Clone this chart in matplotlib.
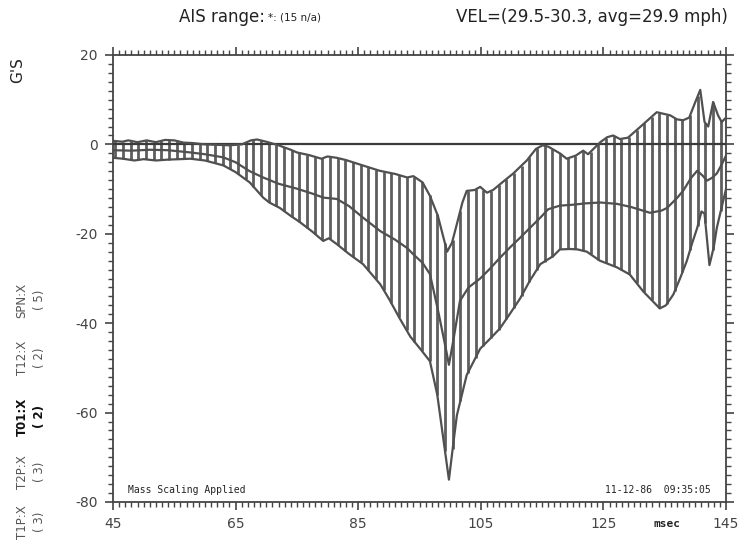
import numpy as np
import matplotlib
matplotlib.use("Agg")
import matplotlib.pyplot as plt
from matplotlib.ticker import MultipleLocator

# ---------------- data ----------------
t_upper = [45, 46.5, 47.5, 49, 50.5, 52, 53.5, 55, 56.5, 58, 60, 62, 64, 66, 67.5, 68.5,
           70, 72, 74, 75, 77, 79, 80, 81.5, 83, 85.5, 88.5, 91, 93, 94, 95.5, 96.7, 98,
           99.5, 100.3, 101.1, 102, 102.7, 104, 104.9, 106, 107, 108.5, 110.3, 112.5,
           114, 115.1, 116, 117.9, 119, 120.5, 121.7, 122.5, 124.5, 125.6, 126.6, 127.7,
           129, 131, 133.7, 135.9, 137, 138, 139, 140, 140.8, 141.5, 142.1, 142.9, 143.7,
           144.3, 145]
g_upper = [0.8, 0.6, 0.9, 0.5, 0.9, 0.5, 1.0, 0.9, 0.4, 0.3, 0.0, -0.1, -0.2, 0.0, 0.9, 1.1,
           0.6, -0.2, -1.2, -1.8, -2.4, -3.2, -2.7, -3.0, -3.5, -4.6, -5.9, -6.6, -7.4, -7.1,
           -8.5, -11.5, -16, -24, -22, -17.8, -13, -10.4, -10.2, -9.5, -10.8, -10.2, -8.5,
           -6.5, -3.6, -1.0, -0.2, -0.5, -2.0, -3.2, -2.5, -1.4, -2.2, 0.5, 1.6, 2.0, 1.2,
           1.5, 3.9, 7.2, 6.5, 5.6, 5.4, 6.0, 9.5, 12.2, 5.0, 4.0, 9.5, 6.5, 5.0, 6.0]

t_mean = [45, 48, 51, 54, 57.6, 60, 63, 65, 67.3, 69.5, 72, 75, 77.5, 79.3, 81.5, 83.5,
          85.8, 88.6, 91, 93, 94, 95.5, 96.7, 98, 99.3, 99.8, 100.5, 101.6, 103, 104.9,
          106.5, 108.1, 109.8, 111.4, 113, 114.7, 116, 117.9, 120, 122, 124.5, 127.2,
          129.5, 132.6, 134.5, 135.4, 137, 138, 139.3, 140.3, 141.2, 141.9, 142.7, 143.5,
          144.3, 145]
g_mean = [-1.3, -1.4, -1.2, -1.3, -1.8, -2.2, -2.9, -4.0, -6.0, -7.4, -8.8, -9.9, -11.0,
          -11.9, -12.2, -13.8, -16.4, -19.4, -21.3, -23.2, -24.6, -26.5, -29.0, -37, -45.7,
          -49.3, -44, -35, -32, -30, -27.8, -25.4, -23, -20.9, -18.7, -16.4, -14.5, -13.7,
          -13.5, -13.2, -13.0, -13.3, -14.0, -15.3, -14.8, -14.2, -12, -10.4, -7.5, -5.9,
          -7.0, -8.1, -7.5, -6.5, -4.5, -2.5]

t_lower = [45, 46.6, 48.5, 50, 52, 54, 56, 57.6, 60, 63, 65, 67.3, 69.5, 70.5, 72.2, 74,
           75.5, 77.5, 79.3, 80.2, 81.5, 83.5, 85.8, 88.6, 90, 91.8, 93.5, 95.1, 96.7, 97.9,
           99, 99.8, 100.6, 101.1, 102.7, 104.9, 106.5, 108.1, 109.8, 111.4, 113, 114.7,
           116.8, 117.9, 119.6, 120.8, 122.3, 124.4, 127.2, 129.3, 131.5, 134.2, 135.2,
           136.4, 137.5, 138.6, 139.5, 140.3, 141.0, 141.5, 142.3, 143.0, 143.5, 144.3, 145]
g_lower = [-3.0, -3.2, -3.6, -3.3, -3.6, -3.4, -3.3, -3.2, -3.6, -4.7, -6.2, -8.5, -11.9,
           -13.0, -14.2, -16, -17.4, -19.5, -21.6, -21.0, -22.3, -24.5, -26.8, -31.3, -34.5,
           -39.0, -43, -45.7, -48.5, -56, -67, -75, -66, -60.6, -51.6, -45.7, -43.5, -41.2,
           -37.8, -34.5, -30.5, -26.8, -25.0, -23.5, -23.4, -23.5, -24.0, -26.0, -27.5,
           -29.1, -32.9, -36.7, -36.0, -33.6, -30, -26.1, -22, -18.7, -15.0, -15.5, -27.0,
           -23, -18.7, -14, -10]

x_ticklabels = [45, 65, 85, 105, 125, 145]
y_ticklabels = [20, 0, -20, -40, -60, -80]

title_left_big = "AIS range:"
title_left_small = "*: (15 n/a)"
title_right = "VEL=(29.5-30.3, avg=29.9 mph)"
channels = ["T1P:X", "T2P:X", "T01:X", "T12:X", "SPN:X"]
channel_counts = ["( 3)", "( 3)", "( 2)", "( 2)", "( 5)"]
bold_channel = "T01:X"

# ---------------- figure ----------------
W, H = 749, 542
fig = plt.figure(figsize=(W / 100, H / 100), dpi=100)
ax = fig.add_axes([113 / W, 1 - 502 / H, (726 - 113) / W, (502 - 55) / H])

line_col = "#505050"
hatch_col = "#5e5e5e"

# vertical hatching between the envelopes
hx = np.arange(45.4, 145, 1.25)
lo = np.interp(hx, t_lower, g_lower)
up = np.interp(hx, t_upper, g_upper)
ax.vlines(hx, np.minimum(lo, up), np.maximum(lo, up), colors=hatch_col, linewidth=2.0)

ax.axhline(0, color="#3a3a3a", linewidth=1.6, zorder=3)
ax.plot(t_upper, g_upper, color=line_col, linewidth=1.6, zorder=4)
ax.plot(t_mean, g_mean, color=line_col, linewidth=1.6, zorder=4)
ax.plot(t_lower, g_lower, color=line_col, linewidth=1.6, zorder=4)

ax.set_xlim(45, 145)
ax.set_ylim(-80, 20)
ax.set_xticks(x_ticklabels)
ax.set_xticklabels([str(v) for v in x_ticklabels])
ax.set_yticks(y_ticklabels)
ax.set_yticklabels([str(v) for v in y_ticklabels])
ax.xaxis.set_minor_locator(MultipleLocator(1))
ax.yaxis.set_minor_locator(MultipleLocator(2))

for s in ax.spines.values():
    s.set_color("#444444")
    s.set_linewidth(1.3)

ax.tick_params(axis="both", which="major", direction="out", length=6, width=1.2,
               color="#444444", labelsize=10, labelcolor="#444444",
               top=True, right=True, pad=5)
ax.tick_params(axis="both", which="minor", direction="out", length=3.5, width=1.0,
               color="#444444", top=True, right=True)

# ---------------- texts ----------------
txt = "#222222"
fig.text(179 / W, 1 - 17 / H, title_left_big, fontsize=12, color=txt,
         ha="left", va="center")
fig.text(268 / W, 1 - 18 / H, title_left_small, fontsize=7.5, color=txt,
         ha="left", va="center")
fig.text(728 / W, 1 - 17 / H, title_right, fontsize=12, color=txt,
         ha="right", va="center")
fig.text(18 / W, 1 - 70 / H, "G'S", fontsize=11, color=txt, rotation=90,
         ha="center", va="center")

ys = [522, 472, 417, 358, 300]
for name, cnt, yy in zip(channels, channel_counts, ys):
    w = "bold" if name == bold_channel else "normal"
    c = "#111111" if name == bold_channel else "#555555"
    fig.text(22 / W, 1 - yy / H, name, fontsize=8.5, rotation=90, ha="center",
             va="center", color=c, weight=w)
    fig.text(40 / W, 1 - yy / H, cnt, fontsize=8.5, rotation=90, ha="center",
             va="center", color=c, weight=w)

ax.text(0.025, 0.027, "Mass Scaling Applied", transform=ax.transAxes, fontsize=7,
        family="DejaVu Sans Mono", color=txt, ha="left", va="center")
ax.text(0.975, 0.027, "11-12-86  09:35:05", transform=ax.transAxes, fontsize=7,
        family="DejaVu Sans Mono", color=txt, ha="right", va="center")
fig.text(667 / W, 1 - 524 / H, "msec", fontsize=8, color=txt, ha="center",
         va="center", family="DejaVu Sans Mono", weight="bold")

fig.savefig("out.png", dpi=100, facecolor="white")
